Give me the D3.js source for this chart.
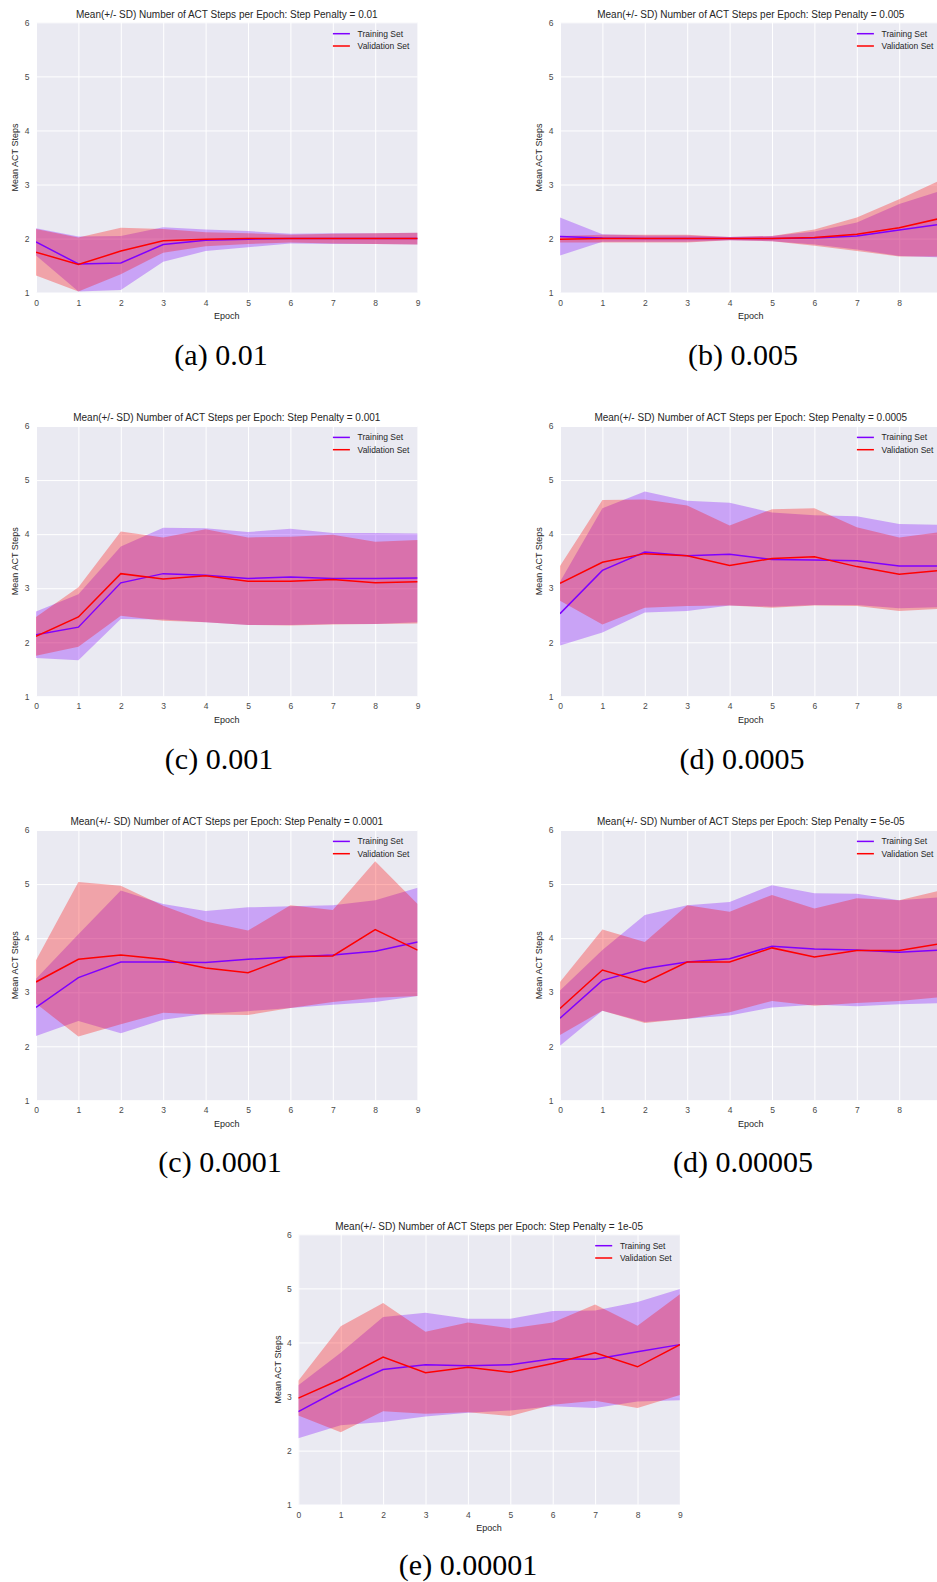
<!DOCTYPE html>
<html>
<head>
<meta charset="utf-8">
<script src="https://cdn.jsdelivr.net/npm/d3@7"></script>
<style>
  html, body { margin: 0; padding: 0; background: #ffffff; }
  svg { display: block; }
</style>
</head>
<body>
<svg id="fig" width="937" height="1582"></svg>
<script>
// ---- data -------------------------------------------------------------
const epochs = [0, 1, 2, 3, 4, 5, 6, 7, 8, 9];
const yTickValues = [1, 2, 3, 4, 5, 6];
const penalties = ["0.01", "0.005", "0.001", "0.0005", "0.0001", "5e-05", "1e-05"];
const captions = ["(a) 0.01", "(b) 0.005", "(c) 0.001", "(d) 0.0005",
                  "(c) 0.0001", "(d) 0.00005", "(e) 0.00001"];
const seriesNames = ["Training Set", "Validation Set"];

// step penalty 0.01
const trainMean_a = [1.94, 1.53, 1.55, 1.89, 1.97, 1.99, 2.00, 2.00, 2.00, 2.00];
const trainSd_a   = [0.25, 0.51, 0.50, 0.32, 0.20, 0.15, 0.09, 0.10, 0.10, 0.11];
const valMean_a   = [1.75, 1.52, 1.77, 1.96, 1.99, 2.00, 2.00, 2.00, 2.00, 2.00];
const valSd_a     = [0.43, 0.50, 0.43, 0.22, 0.13, 0.10, 0.07, 0.09, 0.10, 0.11];

// step penalty 0.005
const trainMean_b = [2.04, 2.01, 2.00, 2.00, 2.00, 2.00, 2.01, 2.05, 2.16, 2.27];
const trainSd_b   = [0.35, 0.07, 0.06, 0.06, 0.03, 0.05, 0.12, 0.25, 0.48, 0.62];
const valMean_b   = [1.99, 2.00, 2.00, 2.00, 2.00, 2.00, 2.02, 2.08, 2.20, 2.38];
const valSd_b     = [0.06, 0.07, 0.07, 0.07, 0.03, 0.05, 0.15, 0.31, 0.53, 0.71];

// step penalty 0.001
const trainMean_c = [2.14, 2.28, 3.10, 3.27, 3.24, 3.18, 3.21, 3.18, 3.18, 3.19];
const trainSd_c   = [0.43, 0.61, 0.67, 0.85, 0.87, 0.86, 0.89, 0.84, 0.84, 0.82];
const valMean_c   = [2.11, 2.47, 3.27, 3.17, 3.23, 3.13, 3.13, 3.16, 3.10, 3.12];
const valSd_c     = [0.36, 0.55, 0.78, 0.77, 0.86, 0.81, 0.82, 0.83, 0.76, 0.77];

// step penalty 0.0005
const trainMean_d = [2.53, 3.33, 3.67, 3.60, 3.63, 3.53, 3.52, 3.51, 3.41, 3.41];
const trainSd_d   = [0.59, 1.15, 1.12, 1.02, 0.95, 0.87, 0.83, 0.82, 0.78, 0.76];
const valMean_d   = [3.09, 3.48, 3.64, 3.60, 3.42, 3.55, 3.58, 3.40, 3.26, 3.33];
const valSd_d     = [0.32, 1.15, 1.00, 0.93, 0.74, 0.91, 0.90, 0.73, 0.68, 0.71];

// step penalty 0.0001
const trainMean_e = [2.72, 3.27, 3.56, 3.56, 3.55, 3.61, 3.65, 3.69, 3.76, 3.93];
const trainSd_e   = [0.53, 0.80, 1.32, 1.07, 0.95, 0.96, 0.94, 0.92, 0.94, 1.00];
const valMean_e   = [3.19, 3.61, 3.69, 3.61, 3.45, 3.36, 3.66, 3.67, 4.16, 3.78];
const valSd_e     = [0.40, 1.43, 1.28, 0.99, 0.86, 0.78, 0.95, 0.85, 1.26, 0.85];

// step penalty 5e-05
const trainMean_f = [2.52, 3.22, 3.44, 3.56, 3.62, 3.85, 3.80, 3.78, 3.74, 3.78];
const trainSd_f   = [0.51, 0.56, 0.99, 1.05, 1.05, 1.13, 1.03, 1.04, 0.96, 0.98];
const valMean_f   = [2.70, 3.41, 3.18, 3.56, 3.56, 3.82, 3.65, 3.77, 3.77, 3.90];
const valSd_f     = [0.49, 0.75, 0.75, 1.05, 0.93, 0.98, 0.90, 0.97, 0.93, 0.99];

// step penalty 1e-05
const trainMean_g = [2.72, 3.14, 3.50, 3.59, 3.57, 3.59, 3.70, 3.69, 3.83, 3.96];
const trainSd_g   = [0.49, 0.67, 0.97, 0.96, 0.87, 0.85, 0.88, 0.90, 0.92, 1.03];
const valMean_g   = [2.97, 3.32, 3.73, 3.44, 3.54, 3.45, 3.61, 3.81, 3.55, 3.96];
const valSd_g     = [0.32, 0.98, 1.00, 0.76, 0.83, 0.81, 0.76, 0.89, 0.76, 0.93];

const runs = [
  { train: [trainMean_a, trainSd_a], val: [valMean_a, valSd_a] },
  { train: [trainMean_b, trainSd_b], val: [valMean_b, valSd_b] },
  { train: [trainMean_c, trainSd_c], val: [valMean_c, valSd_c] },
  { train: [trainMean_d, trainSd_d], val: [valMean_d, valSd_d] },
  { train: [trainMean_e, trainSd_e], val: [valMean_e, valSd_e] },
  { train: [trainMean_f, trainSd_f], val: [valMean_f, valSd_f] },
  { train: [trainMean_g, trainSd_g], val: [valMean_g, valSd_g] }
];

// ---- layout -----------------------------------------------------------
const figW = 937;
const plotW = 381.6, plotH = 270.4;
const panelOrigins = [
  [36, 22.3], [560, 22.3],
  [36, 426], [560, 426],
  [36, 830], [560, 830],
  [298.3, 1234.3]
];
const captionPos = [
  [221, 365], [743, 365],
  [219, 768.5], [742, 768.5],
  [220, 1172], [743, 1172],
  [468, 1575]
];

const colors = { train: "#7f00ff", val: "#ff0000" };
const bg = "#eaeaf2";
const textColor = "#262626";
const tickColor = "#4a4a4a";
const sansFont = "'Liberation Sans', Arial, sans-serif";

const svg = d3.select("#fig");

svg.append("defs").selectAll("clipPath")
  .data(panelOrigins)
  .join("clipPath")
  .attr("id", (d, i) => "plotclip" + i)
  .append("rect")
  .attr("width", plotW).attr("height", plotH);

runs.forEach((run, i) => {
  const [ox, oy] = panelOrigins[i];
  const g = svg.append("g").attr("transform", `translate(${ox},${oy})`);

  const x = d3.scaleLinear().domain([0, 9]).range([0, plotW]);
  const y = d3.scaleLinear().domain([1, 6]).range([plotH, 0]);

  // epoch labels only where they fall inside the figure
  const visibleEpochs = epochs.filter(e => ox + x(e) + 3 <= figW);

  // background
  g.append("rect").attr("width", plotW).attr("height", plotH).attr("fill", bg);

  // grid
  g.append("g")
    .attr("transform", `translate(0,${plotH})`)
    .call(d3.axisBottom(x).tickValues(epochs).tickSize(-plotH).tickFormat(""))
    .call(a => a.select(".domain").remove())
    .call(a => a.selectAll("line").attr("stroke", "#ffffff").attr("stroke-width", 1));
  g.append("g")
    .call(d3.axisLeft(y).tickValues(yTickValues).tickSize(-plotW).tickFormat(""))
    .call(a => a.select(".domain").remove())
    .call(a => a.selectAll("line").attr("stroke", "#ffffff").attr("stroke-width", 1));

  const plot = g.append("g").attr("clip-path", `url(#plotclip${i})`);

  const series = [
    { key: "train", mean: run.train[0], sd: run.train[1] },
    { key: "val", mean: run.val[0], sd: run.val[1] }
  ];

  const area = d3.area()
    .x((d, k) => x(epochs[k]))
    .y0(d => y(d.m - d.s))
    .y1(d => y(d.m + d.s));
  const line = d3.line()
    .x((d, k) => x(epochs[k]))
    .y(d => y(d.m));

  // mean +/- SD bands
  series.forEach(s => {
    const pts = s.mean.map((m, k) => ({ m, s: s.sd[k] }));
    plot.append("path")
      .attr("d", area(pts))
      .attr("fill", colors[s.key])
      .attr("fill-opacity", 0.3)
      .attr("stroke", "none");
  });
  // mean lines
  series.forEach(s => {
    const pts = s.mean.map((m, k) => ({ m, s: s.sd[k] }));
    plot.append("path")
      .attr("d", line(pts))
      .attr("fill", "none")
      .attr("stroke", colors[s.key])
      .attr("stroke-width", 1.5);
  });

  // tick labels
  g.append("g")
    .attr("transform", `translate(0,${plotH})`)
    .call(d3.axisBottom(x).tickValues(visibleEpochs).tickSize(0).tickPadding(7).tickFormat(d3.format("d")))
    .call(a => a.select(".domain").remove())
    .call(a => a.selectAll("text")
      .attr("fill", tickColor).style("font-family", sansFont).style("font-size", "8.5px"));
  g.append("g")
    .call(d3.axisLeft(y).tickValues(yTickValues).tickSize(0).tickPadding(6.5).tickFormat(d3.format("d")))
    .call(a => a.select(".domain").remove())
    .call(a => a.selectAll("text")
      .attr("fill", tickColor).style("font-family", sansFont).style("font-size", "8.5px"));

  // axis titles
  g.append("text")
    .attr("x", plotW / 2).attr("y", plotH + 26.5)
    .attr("text-anchor", "middle")
    .attr("fill", textColor)
    .style("font-family", sansFont).style("font-size", "9px")
    .text("Epoch");
  g.append("text")
    .attr("transform", `translate(-17.8,${plotH / 2}) rotate(-90)`)
    .attr("text-anchor", "middle")
    .attr("fill", textColor)
    .style("font-family", sansFont).style("font-size", "9px")
    .text("Mean ACT Steps");

  // title
  g.append("text")
    .attr("x", plotW / 2).attr("y", -4.8)
    .attr("text-anchor", "middle")
    .attr("fill", textColor)
    .style("font-family", sansFont).style("font-size", "10px")
    .text(`Mean(+/- SD) Number of ACT Steps per Epoch: Step Penalty = ${penalties[i]}`);

  // legend
  const leg = g.append("g").attr("transform", `translate(${plotW - 84.7},11.4)`);
  ["train", "val"].forEach((k, j) => {
    leg.append("line")
      .attr("x1", 0).attr("x2", 17)
      .attr("y1", j * 12.3).attr("y2", j * 12.3)
      .attr("stroke", colors[k]).attr("stroke-width", 1.5);
    leg.append("text")
      .attr("x", 24.7).attr("y", j * 12.3 + 3)
      .attr("fill", textColor)
      .style("font-family", sansFont).style("font-size", "8.5px")
      .text(seriesNames[j]);
  });
});

// sub-figure captions
svg.selectAll("text.caption")
  .data(captions)
  .join("text")
  .attr("class", "caption")
  .attr("x", (d, i) => captionPos[i][0])
  .attr("y", (d, i) => captionPos[i][1])
  .attr("text-anchor", "middle")
  .attr("fill", "#000000")
  .style("font-family", "'Liberation Serif', 'Times New Roman', serif")
  .style("font-size", "30px")
  .text(d => d);
</script>
</body>
</html>
